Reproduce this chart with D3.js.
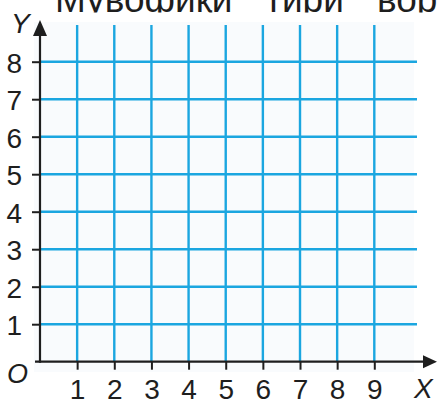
<!DOCTYPE html>
<html>
<head>
<meta charset="utf-8">
<script src="https://cdn.jsdelivr.net/npm/d3@7"></script>
<style>
  html, body { margin: 0; padding: 0; background: #fff; }
  svg { display: block; }
  text { font-family: "Liberation Sans", Arial, Helvetica, sans-serif; fill: #1e1e1e; }
</style>
</head>
<body>
<svg id="chart" width="438" height="402"></svg>
<script>
// ---- data ----
const titleWords = ["Мувофиқи", "тири", "вор"];
const xTicks = [1, 2, 3, 4, 5, 6, 7, 8, 9];
const yTicks = [1, 2, 3, 4, 5, 6, 7, 8];
const xDomain = [0, 9];
const yDomain = [0, 8];
const originLabel = "O";
const xAxisLabel = "X";
const yAxisLabel = "Y";

// ---- layout ----
const W = 438, H = 402;
const svg = d3.select("#chart");
const x = d3.scaleLinear().domain(xDomain).range([40, 374.3]);
const y = d3.scaleLinear().domain(yDomain).range([361.7, 61.7]);
const gridColor = "#1ba6e0";
const axisColor = "#1e1e1e";

svg.append("defs").append("clipPath").attr("id", "titleClip")
  .append("rect").attr("x", 0).attr("y", 0).attr("width", W).attr("height", 12.5);

// faint paper background
svg.append("rect").attr("x", 34).attr("y", 22).attr("width", 380).attr("height", 350)
  .attr("fill", "#f9fbfd");

// title (top cut off by the picture edge)
const titleX = [55, 265, 377];
svg.append("g").attr("clip-path", "url(#titleClip)")
  .selectAll("text").data(titleWords).join("text")
  .attr("x", (d, i) => titleX[i]).attr("y", 12)
  .attr("font-size", 37)
  .text(d => d);

// grid
const grid = svg.append("g");
grid.selectAll("line.v").data(xTicks).join("line").attr("class", "v")
  .attr("x1", d => x(d)).attr("x2", d => x(d))
  .attr("y1", 25).attr("y2", y(0))
  .attr("stroke", gridColor).attr("stroke-width", 2.4);
grid.selectAll("line.h").data(yTicks).join("line").attr("class", "h")
  .attr("x1", x(0)).attr("x2", 417)
  .attr("y1", d => y(d)).attr("y2", d => y(d))
  .attr("stroke", gridColor).attr("stroke-width", 2.4);

// axes ticks + labels via d3 axes
const xAxis = d3.axisBottom(x).tickValues(xTicks).tickSize(8).tickPadding(9).tickFormat(d3.format("d"));
const gx = svg.append("g").attr("transform", `translate(0,${y(0)})`).call(xAxis);
gx.select(".domain").remove();
gx.selectAll(".tick line").attr("stroke", axisColor).attr("stroke-width", 2);
gx.selectAll(".tick text").attr("font-size", 28).attr("fill", axisColor)
  .attr("font-family", "'Liberation Sans', Arial, sans-serif");

const yAxis = d3.axisLeft(y).tickValues(yTicks).tickSize(8).tickPadding(10).tickFormat(d3.format("d"));
const gy = svg.append("g").attr("transform", `translate(${x(0)},0)`).call(yAxis);
gy.select(".domain").remove();
gy.selectAll(".tick line").attr("stroke", axisColor).attr("stroke-width", 2);
gy.selectAll(".tick text").attr("font-size", 28).attr("fill", axisColor).attr("dy", "0.37em")
  .attr("font-family", "'Liberation Sans', Arial, sans-serif");

// axis lines with arrows
svg.append("line").attr("x1", 35).attr("x2", 424).attr("y1", y(0)).attr("y2", y(0))
  .attr("stroke", axisColor).attr("stroke-width", 2.2);
svg.append("line").attr("x1", x(0)).attr("x2", x(0)).attr("y1", y(0) + 1).attr("y2", 34)
  .attr("stroke", axisColor).attr("stroke-width", 2.2);
svg.append("path")
  .attr("d", `M437,${y(0)} L423,${y(0) - 6.5} L423,${y(0) + 6.5} Z`)
  .attr("fill", axisColor);
svg.append("path")
  .attr("d", `M${x(0)},20 L${x(0) - 7},36 L${x(0) + 7},36 Z`)
  .attr("fill", axisColor);

// axis letters
svg.append("text").attr("x", 7).attr("y", 383).attr("font-size", 27).attr("font-style", "italic").text(originLabel);
svg.append("text").attr("x", 414).attr("y", 398).attr("font-size", 28).attr("font-style", "italic").text(xAxisLabel);
svg.append("text").attr("x", 11).attr("y", 33).attr("font-size", 28).attr("font-style", "italic").text(yAxisLabel);
</script>
</body>
</html>
